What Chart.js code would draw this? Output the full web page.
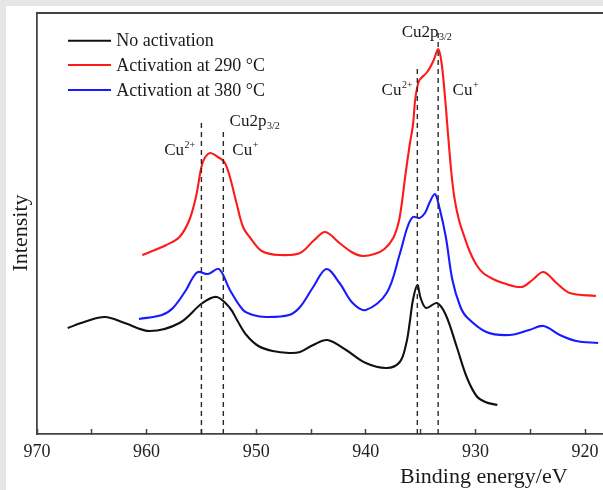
<!DOCTYPE html>
<html><head><meta charset="utf-8">
<script src="https://cdn.jsdelivr.net/npm/chart.js@4"></script>
<style>
html,body{margin:0;padding:0;background:#e6e6e6;width:603px;height:490px;overflow:hidden}
#c{position:absolute;left:6px;top:6px;background:#fff}
</style></head><body>
<canvas id="c" width="597" height="484"></canvas>
<script>
// ---- data (binding energy in eV, intensity in arbitrary units) ----
const seriesNames = ['No activation', 'Activation at 290 °C', 'Activation at 380 °C'];
const seriesColors = ['#111111', '#ff1a1a', '#1a1aff'];

const energyNoAct = [967.2, 965.7, 963.8, 962.0, 959.7, 957.0, 954.9, 953.6, 952.4, 951.7, 950.9, 949.8, 948.5, 947.0, 946.0, 944.8, 943.5, 941.8, 940.0, 938.1, 936.9, 936.3, 936.0, 935.7, 935.3, 935.0, 934.5, 933.5, 932.7, 931.7, 930.8, 929.9, 929.1, 928.0];
const intensityNoAct = [106, 112, 117, 111, 103, 111, 131, 137, 126, 113, 99, 88, 83, 81, 82, 89, 94, 84, 71, 66, 72, 91, 111, 134, 149, 136, 126, 131, 119, 87, 57, 38, 32, 29];

const energy290 = [960.4, 958.2, 957.0, 956.1, 955.5, 955.0, 954.7, 954.2, 953.5, 952.9, 952.4, 951.8, 951.2, 950.6, 949.5, 947.9, 946.0, 944.7, 943.7, 942.4, 941.3, 940.3, 939.2, 938.3, 937.5, 937.0, 936.7, 936.4, 936.0, 935.7, 935.5, 935.3, 935.1, 934.4, 933.8, 933.4, 933.1, 932.8, 932.5, 932.2, 931.9, 931.5, 931.0, 930.5, 929.9, 929.3, 928.4, 927.5, 925.8, 924.8, 923.8, 922.6, 921.4, 919.0];
const intensity290 = [179, 189, 197, 214, 237, 267, 276, 281, 277, 272, 257, 231, 207, 197, 183, 179, 181, 194, 202, 191, 182, 178, 180, 185, 196, 212, 232, 258, 289, 309, 334, 347, 354, 362, 374, 385, 372, 340, 300, 262, 235, 214, 197, 182, 169, 161, 155, 151, 147, 154, 162, 151, 141, 138];

const energy380 = [960.7, 958.6, 957.6, 956.4, 955.8, 955.3, 954.4, 953.4, 952.4, 951.2, 950.3, 949.1, 947.0, 946.0, 944.8, 943.6, 942.4, 941.2, 940.0, 938.1, 936.9, 936.2, 935.7, 935.1, 934.6, 934.2, 933.7, 933.3, 932.7, 932.1, 931.4, 930.8, 929.0, 926.9, 925.1, 923.8, 922.3, 920.8, 918.8];
const intensity380 = [115, 119, 126, 144, 156, 162, 160, 165, 144, 124, 119, 117, 119, 127, 147, 165, 151, 131, 124, 141, 180, 207, 217, 216, 221, 231, 240, 227, 197, 154, 128, 117, 102, 99, 104, 108, 99, 93, 91];

// dashed reference lines (energy, top of the dashed line in intensity units)
const markerEnergies = [955, 953, 935.3, 933.4];
const markerTops = [313, 306, 368, 404];

// peak labels: main text, script text, script kind, anchored at (energy, intensity)
const labelMain = ['Cu', 'Cu2p', 'Cu', 'Cu2p', 'Cu', 'Cu'];
const labelScript = ['2+', '3/2', '+', '3/2', '2+', '+'];
const labelKind = ['sup', 'sub', 'sup', 'sub', 'sup', 'sup'];
const labelEnergies = [958.39, 952.43, 952.18, 936.73, 938.56, 932.08];
const labelLevels = [279, 308, 279, 397, 339, 339];

const xAxisTitle = 'Binding energy/eV';
const yAxisTitle = 'Intensity';
const xMin = 918.36, xMax = 970, yMin = 0, yMax = 421;
const tickStep = 5, labelStep = 10;

// ---- build ----
const serif = '"Liberation Serif", "Times New Roman", serif';
const axisColor = '#444444';
const pts = (xs, ys) => xs.map((v, i) => ({x: v, y: ys[i]}));

const curveSets = [
  [energyNoAct, intensityNoAct],
  [energy290, intensity290],
  [energy380, intensity380]
].map((s, i) => ({
  label: seriesNames[i],
  data: pts(s[0], s[1]),
  borderColor: seriesColors[i],
  backgroundColor: seriesColors[i],
  borderWidth: 2.1,
  pointRadius: 0,
  tension: 0.35,
  fill: false
}));

const markerSets = markerEnergies.map((e, i) => ({
  label: 'marker' + i,
  data: [{x: e, y: yMin}, {x: e, y: markerTops[i]}],
  borderColor: '#2a2a2a',
  borderWidth: 1.4,
  borderDash: [5, 4],
  pointRadius: 0,
  fill: false
}));

const decor = {
  id: 'decor',
  afterDraw(chart) {
    const {ctx, chartArea: a, scales: {x, y}} = chart;
    ctx.save();
    // top frame line
    ctx.strokeStyle = axisColor;
    ctx.lineWidth = 1.8;
    ctx.beginPath();
    ctx.moveTo(a.left - 0.9, a.top);
    ctx.lineTo(chart.width, a.top);
    ctx.stroke();

    // legend
    const rows = [27.7, 52, 77];
    ctx.font = '18px ' + serif;
    ctx.textBaseline = 'middle';
    ctx.textAlign = 'left';
    curveSets.forEach((ds, i) => {
      const yy = a.top + rows[i];
      ctx.strokeStyle = ds.borderColor;
      ctx.lineWidth = 2;
      ctx.beginPath();
      ctx.moveTo(a.left + 31, yy);
      ctx.lineTo(a.left + 74, yy);
      ctx.stroke();
      ctx.fillStyle = '#1a1a1a';
      ctx.fillText(ds.label, a.left + 79.3, yy + 1);
    });

    // peak labels
    ctx.textBaseline = 'alphabetic';
    labelMain.forEach((t, i) => {
      const px = x.getPixelForValue(labelEnergies[i]);
      const py = y.getPixelForValue(labelLevels[i]);
      ctx.fillStyle = '#1a1a1a';
      ctx.font = '17px ' + serif;
      ctx.fillText(t, px, py);
      const w = ctx.measureText(t).width;
      ctx.font = '10px ' + serif;
      const dy = labelKind[i] === 'sup' ? -7 : 3;
      ctx.fillText(labelScript[i], px + w + 0.5, py + dy);
    });

    // axis titles
    ctx.fillStyle = '#1a1a1a';
    ctx.font = '22px ' + serif;
    ctx.textAlign = 'left';
    ctx.fillText(xAxisTitle, 394, 477);
    ctx.save();
    ctx.translate(21, 227);
    ctx.rotate(-Math.PI / 2);
    ctx.textAlign = 'center';
    ctx.fillText(yAxisTitle, 0, 0);
    ctx.restore();

    ctx.restore();
  }
};

new Chart(document.getElementById('c'), {
  type: 'line',
  data: {datasets: [...markerSets, ...curveSets]},
  options: {
    responsive: false,
    animation: false,
    events: [],
    layout: {padding: {top: 7, left: 0, right: 0, bottom: 0}},
    plugins: {legend: {display: false}, tooltip: {enabled: false}},
    scales: {
      x: {
        type: 'linear',
        reverse: true,
        min: xMin,
        max: xMax,
        position: 'bottom',
        border: {display: true, color: axisColor, width: 1.8},
        grid: {display: true, drawOnChartArea: false, drawTicks: true, tickLength: -5, tickColor: axisColor, tickWidth: 1.5},
        ticks: {
          stepSize: tickStep,
          includeBounds: false,
          autoSkip: false,
          maxRotation: 0,
          padding: 12.2,
          color: '#222222',
          font: {family: serif, size: 18},
          callback: v => (Math.round(v) % labelStep === 0 ? String(Math.round(v)) : '')
        },
        afterFit: s => { s.height = 56; s.paddingLeft = 0; s.paddingRight = 0; }
      },
      y: {
        type: 'linear',
        min: yMin,
        max: yMax,
        border: {display: true, color: axisColor, width: 1.8},
        grid: {display: false},
        ticks: {display: false},
        afterFit: s => { s.width = 31; s.paddingTop = 0; s.paddingBottom = 0; }
      }
    }
  },
  plugins: [decor]
});
</script>
</body></html>
